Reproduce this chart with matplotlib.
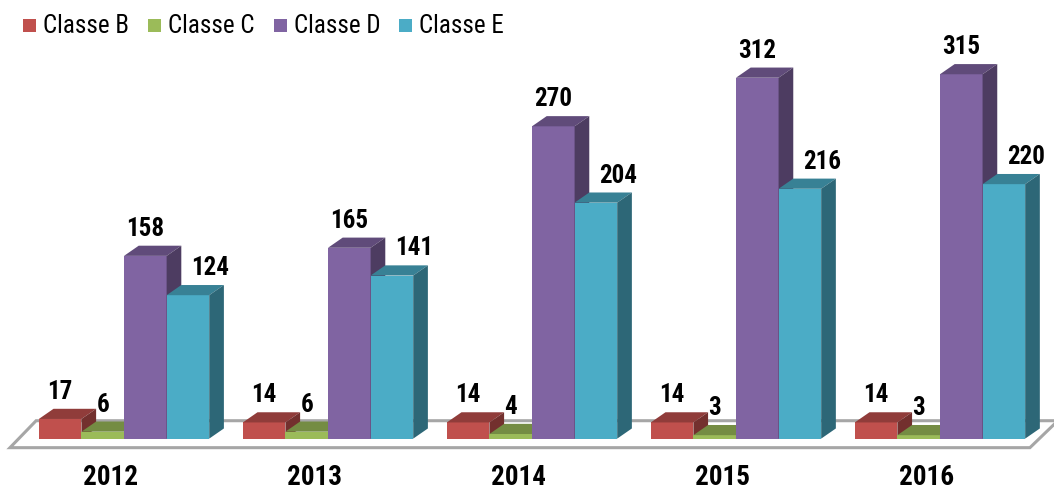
import matplotlib
matplotlib.use('Agg')
import matplotlib.pyplot as plt
from matplotlib.patches import Polygon, Rectangle
from matplotlib.colors import to_rgb
import numpy as np

plt.rcParams['font.family'] = ['Roboto Condensed', 'Liberation Sans', 'DejaVu Sans']

# ── Data ────────────────────────────────────────────────────────────────
years = ['2012', '2013', '2014', '2015', '2016']
series = ['Classe B', 'Classe C', 'Classe D', 'Classe E']
classe_b = [17, 14, 14, 14, 14]
classe_c = [6, 6, 4, 3, 3]
classe_d = [158, 165, 270, 312, 315]
classe_e = [124, 141, 204, 216, 220]
values = [classe_b, classe_c, classe_d, classe_e]

colors = ['#C0504D', '#9BBB59', '#8064A2', '#4BACC6']
label_shift = [0.0, 0.0, 0.0, 0.108]   # Excel nudges the Classe E labels right


def shade(c, f):
    r, g, b = to_rgb(c)
    return (r * f, g * f, b * f)


W, H = 1054, 490
fig = plt.figure(figsize=(W / 100, H / 100), dpi=100)
ax = fig.add_axes([0, 0, 1, 1])
ax.set_xlim(-0.608, 4.559)
ax.set_ylim(-44.4, 379.2)
ax.axis('off')

w = 0.2088          # bar width (x units)
ddx = 0.072         # depth offset, x
ddy = 8.8           # depth offset, y (value units)

# floor
floor = Polygon([(-0.559, -7.8), (4.441, -7.8), (4.578, 15.5), (-0.431, 15.5)],
                closed=True, facecolor='white', edgecolor='#a6a6a6', lw=2.2, zorder=0)
ax.add_patch(floor)

x = np.arange(len(years))
z = 1
for i in range(len(years)):
    for j, (name, vals) in enumerate(zip(series, values)):
        left = x[i] - 2 * w + j * w
        v = vals[i]
        ax.bar(left, v, width=w, align='edge', color=colors[j], lw=0, zorder=z)
        top = Polygon([(left, v), (left + w, v), (left + w + ddx, v + ddy), (left + ddx, v + ddy)],
                      closed=True, facecolor=shade(colors[j], 0.75), lw=0, zorder=z)
        side = Polygon([(left + w, 0), (left + w + ddx, ddy), (left + w + ddx, v + ddy), (left + w, v)],
                       closed=True, facecolor=shade(colors[j], 0.6), lw=0, zorder=z)
        ax.add_patch(top)
        ax.add_patch(side)
        ax.text(left + w / 2 + label_shift[j], v + ddy + 8.6, str(v), ha='center',
                va='baseline', fontsize=18, fontweight='bold', zorder=100)
        z += 1

for i, yr in enumerate(years):
    ax.text(x[i] - 0.066, -34, yr, ha='center', va='center', fontsize=19.5,
            fontweight='bold')

# legend, laid out by hand in figure pixels
for k, (name, c) in enumerate(zip(series, colors)):
    x0 = 23 + 125.3 * k
    fig.patches.append(Rectangle((x0 / W, 1 - 32 / H), 13 / W, 13 / H,
                                 transform=fig.transFigure, facecolor=c, lw=0))
    fig.text((x0 + 20) / W, 1 - 33 / H, name, ha='left', va='baseline', fontsize=18)

fig.savefig('out.png', dpi=100, facecolor='white')
